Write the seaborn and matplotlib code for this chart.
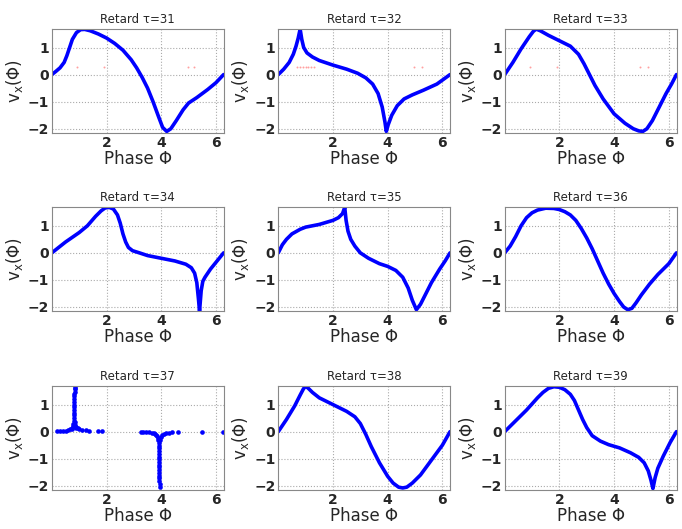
import numpy as np
import pandas as pd
import seaborn as sns
import matplotlib
matplotlib.use('Agg')
import matplotlib.pyplot as plt

# curves: phase, v_x
phi31 = [0, 0.15, 0.3, 0.45, 0.55, 0.65, 0.75, 0.9, 1.05, 1.2, 1.4, 1.7, 2.0, 2.3, 2.6, 2.9, 3.1, 3.3, 3.5, 3.7, 3.9,
         4.05, 4.2, 4.35, 4.55, 4.8, 5.0, 5.3, 5.7, 6.0, 6.28]
vx31 = [0, 0.12, 0.25, 0.45, 0.7, 1.0, 1.3, 1.55, 1.66, 1.67, 1.62, 1.5, 1.35, 1.15, 0.9, 0.55, 0.25, -0.1, -0.5, -1.0, -1.55,
        -1.95, -2.1, -2.0, -1.7, -1.3, -1.05, -0.85, -0.55, -0.3, 0]

phi32 = [0, 0.2, 0.4, 0.55, 0.65, 0.73, 0.8, 0.86, 0.93, 1.05, 1.25, 1.5, 2.0, 2.5, 2.9, 3.2, 3.45, 3.65, 3.8, 3.9, 3.95,
         4.02, 4.15, 4.35, 4.6, 4.9, 5.3, 5.8, 6.28]
vx32 = [0, 0.2, 0.45, 0.75, 1.05, 1.35, 1.68, 1.3, 1.0, 0.8, 0.65, 0.52, 0.35, 0.2, 0.05, -0.12, -0.35, -0.7, -1.2, -1.75, -2.1,
        -1.85, -1.5, -1.15, -0.9, -0.75, -0.58, -0.35, 0]

phi33 = [0, 0.3, 0.6, 0.9, 1.05, 1.15, 1.3, 1.6, 2.0, 2.4, 2.7, 2.9, 3.1, 3.3, 3.6, 4.0, 4.4, 4.7, 4.9, 5.05, 5.2, 5.4,
         5.6, 5.9, 6.1, 6.28]
vx33 = [0, 0.45, 0.95, 1.4, 1.6, 1.68, 1.62, 1.45, 1.25, 1.05, 0.75, 0.4, 0.0, -0.4, -0.9, -1.45, -1.8, -2.0, -2.08, -2.1, -2.0, -1.7,
        -1.3, -0.7, -0.35, 0]

phi34 = [0, 0.5, 1.0, 1.3, 1.6, 1.8, 1.95, 2.1, 2.25, 2.4, 2.5, 2.6, 2.7, 2.8, 2.95, 3.2, 3.5, 4.0, 4.5, 4.9, 5.1, 5.22,
         5.3, 5.36, 5.4, 5.46, 5.52, 5.6, 5.8, 6.0, 6.28]
vx34 = [0, 0.4, 0.75, 1.0, 1.35, 1.55, 1.66, 1.68, 1.62, 1.4, 1.1, 0.7, 0.4, 0.2, 0.08, 0.0, -0.1, -0.2, -0.3, -0.42, -0.55, -0.75,
        -1.1, -1.7, -2.15, -1.4, -1.05, -0.9, -0.6, -0.35, 0]

phi35 = [0, 0.15, 0.3, 0.5, 0.8, 1.0, 1.5, 2.0, 2.2, 2.35, 2.43, 2.48, 2.55, 2.65, 2.8, 3.0, 3.3, 3.7, 4.0, 4.3, 4.55, 4.75,
         4.9, 5.05, 5.2, 5.4, 5.6, 5.9, 6.1, 6.28]
vx35 = [0, 0.3, 0.5, 0.7, 0.87, 0.95, 1.05, 1.2, 1.3, 1.45, 1.68, 1.2, 0.8, 0.5, 0.25, 0.0, -0.2, -0.4, -0.5, -0.65, -0.9, -1.3,
        -1.75, -2.1, -1.9, -1.5, -1.1, -0.6, -0.3, 0]

phi36 = [0, 0.2, 0.4, 0.6, 0.8, 1.0, 1.2, 1.5, 1.8, 2.0, 2.2, 2.4, 2.6, 2.8, 3.0, 3.2, 3.4, 3.6, 3.8, 4.0, 4.2, 4.35, 4.5,
         4.65, 4.8, 5.0, 5.3, 5.6, 6.0, 6.28]
vx36 = [0, 0.25, 0.6, 1.0, 1.3, 1.48, 1.58, 1.65, 1.64, 1.6, 1.52, 1.4, 1.2, 0.9, 0.55, 0.15, -0.3, -0.75, -1.15, -1.5, -1.8,
        -2.0, -2.1, -2.05, -1.85, -1.55, -1.15, -0.8, -0.4, 0]

phi38 = [0, 0.3, 0.6, 0.8, 0.92, 1.0, 1.1, 1.25, 1.5, 2.0, 2.5, 2.8, 3.0, 3.2, 3.4, 3.7, 4.0, 4.2, 4.4, 4.55, 4.7, 4.9,
         5.2, 5.6, 6.0, 6.28]
vx38 = [0, 0.45, 0.95, 1.35, 1.58, 1.68, 1.6, 1.45, 1.25, 1.0, 0.75, 0.55, 0.3, -0.1, -0.55, -1.15, -1.65, -1.9, -2.05, -2.08, -2.05, -1.9,
        -1.6, -1.05, -0.5, 0]

phi39 = [0, 0.4, 0.8, 1.2, 1.4, 1.6, 1.8, 2.0, 2.2, 2.4, 2.55, 2.7, 2.85, 3.0, 3.2, 3.5, 3.8, 4.2, 4.6, 4.9, 5.1, 5.25,
         5.35, 5.42, 5.5, 5.6, 5.8, 6.05, 6.28]
vx39 = [0, 0.4, 0.8, 1.25, 1.45, 1.6, 1.66, 1.64, 1.55, 1.38, 1.15, 0.8, 0.45, 0.15, -0.15, -0.35, -0.48, -0.6, -0.78, -0.95, -1.15, -1.45,
        -1.8, -2.1, -1.7, -1.35, -0.9, -0.4, 0]

# tau=37 is a cloud of points: two spikes plus scattered dots near zero
phi37 = [0.2, 0.3, 0.4, 0.5, 0.6, 0.68, 0.72, 0.75, 0.77, 0.79, 0.8, 0.81, 0.81, 0.82, 0.82, 0.82, 0.82, 0.82, 0.82, 0.82,
         0.82, 0.83, 0.83, 0.83, 0.83, 0.83, 0.84, 0.85, 0.87, 0.9, 0.94, 1.0, 1.1, 1.25, 1.35, 1.7, 1.85,
         3.25, 3.35, 3.45, 3.55, 3.65, 3.72, 3.78, 3.82, 3.85, 3.87, 3.89, 3.9, 3.9, 3.91, 3.91, 3.92, 3.92, 3.92, 3.92,
         3.92, 3.93, 3.93, 3.93, 3.93, 3.93, 3.93, 3.94, 3.95, 3.97, 4.0, 4.04, 4.1, 4.18, 4.28, 4.4, 4.6, 5.5, 6.25]
vx37 = [0.02, 0.03, 0.03, 0.04, 0.05, 0.08, 0.1, 0.14, 0.2, 0.3, 0.4, 0.5, 0.6, 0.7, 0.8, 0.9, 1.0, 1.1, 1.2, 1.3,
        1.4, 1.48, 1.56, 1.62, 1.68, 1.74, 0.35, 0.25, 0.18, 0.14, 0.12, 0.1, 0.06, 0.05, 0.04, 0.02, 0.01,
        -0.02, -0.02, -0.02, -0.03, -0.04, -0.06, -0.08, -0.12, -0.17, -0.24, -0.32, -0.42, -0.52, -0.62, -0.72, -0.82, -0.92, -1.02, -1.12,
        -1.22, -1.32, -1.42, -1.52, -1.62, -1.72, -1.82, -1.92, -2.05, -0.3, -0.18, -0.12, -0.08, -0.06, -0.04, -0.03, -0.02, 0.0, 0.0]

# faint red/grey markers near v=0.3 in the first row
red_phi = {31: [0.92, 1.9, 4.97, 5.2], 32: [0.7, 0.8, 0.9, 1.0, 1.1, 1.2, 1.3, 4.95, 5.25], 33: [0.92, 1.9, 4.95, 5.24]}
red_vx = 0.28

curves = {31: (phi31, vx31), 32: (phi32, vx32), 33: (phi33, vx33), 34: (phi34, vx34), 35: (phi35, vx35),
          36: (phi36, vx36), 38: (phi38, vx38), 39: (phi39, vx39)}
taus = [31, 32, 33, 34, 35, 36, 37, 38, 39]

sns.set_style('whitegrid')
plt.rcParams['font.family'] = ['DejaVu Sans']
plt.rcParams['mathtext.fontset'] = 'dejavusans'

fig = plt.figure(figsize=(6.82, 5.29), dpi=100)
lefts = [0.076, 0.408, 0.740]
bottoms = [0.749, 0.412, 0.074]

for i, tau in enumerate(taus):
    ax = fig.add_axes([lefts[i % 3], bottoms[i // 3], 0.252, 0.197])
    if tau == 37:
        df = pd.DataFrame({'phi': phi37, 'vx': vx37})
        sns.scatterplot(data=df, x='phi', y='vx', ax=ax, color='#0000ff', s=11, linewidth=0)
    else:
        df = pd.DataFrame({'phi': curves[tau][0], 'vx': curves[tau][1]})
        sns.lineplot(data=df, x='phi', y='vx', ax=ax, color='#0000ff', linewidth=2.6, sort=False)
    if tau in red_phi:
        dr = pd.DataFrame({'phi': red_phi[tau], 'vx': [red_vx] * len(red_phi[tau])})
        sns.scatterplot(data=dr, x='phi', y='vx', ax=ax, color='#ffa0a0', s=2, linewidth=0)
    ax.set_xlim(0, 2 * np.pi)
    ax.set_ylim(-2.15, 1.7)
    ax.set_xticks([2, 4, 6])
    ax.set_yticks([-2, -1, 0, 1])
    ax.grid(True, linestyle=':', color='#aaaaaa', linewidth=0.8)
    for s in ax.spines.values():
        s.set_color('#888888')
        s.set_linewidth(0.8)
    ax.tick_params(axis='both', labelsize=10, pad=2, length=0)
    for lab in ax.get_xticklabels() + ax.get_yticklabels():
        lab.set_fontweight('bold')
    ax.set_title('Retard \u03c4=%d' % tau, fontsize=8.5, pad=4)
    ax.set_xlabel('Phase \u03a6', fontsize=12, labelpad=0)
    ax.set_ylabel('v$_\\mathregular{x}$(\u03a6)', fontsize=12, labelpad=2)

fig.savefig('out.png', dpi=100)
